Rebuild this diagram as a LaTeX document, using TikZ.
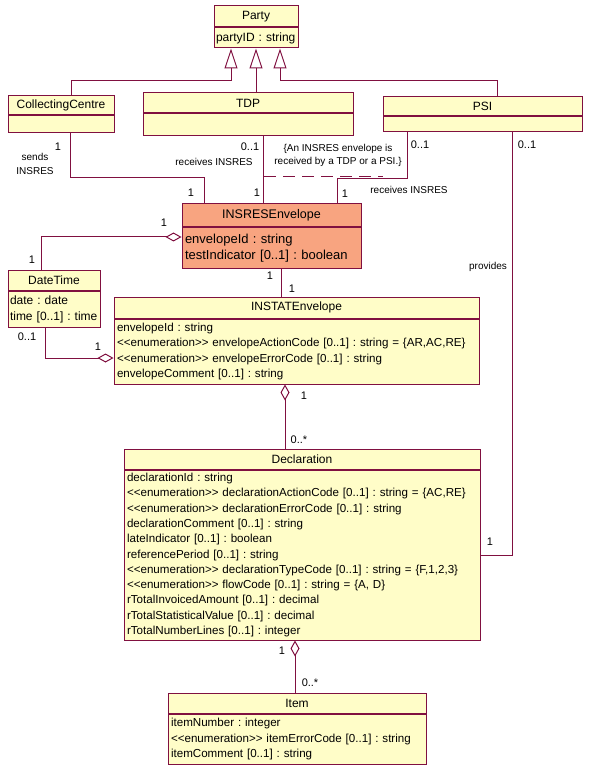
\documentclass[tikz,border=0pt]{standalone}
\usepackage{fontspec}
\setmainfont{Liberation Sans}
\usetikzlibrary{arrows.meta,positioning}
\definecolor{umlline}{RGB}{128,16,64}
\definecolor{umlfill}{RGB}{255,253,200}
\definecolor{umlsalmon}{RGB}{248,164,128}
\newcommand{\enumst}{<{}<enumeration>{}>}

\begin{document}
\frenchspacing
\begin{tikzpicture}[x=1pt, y=-1pt,
    cls/.style={draw=umlline, fill=umlfill, line width=1pt, inner sep=0pt,
                font=\fontsize{12}{14}\selectfont},
    attrs/.style={draw=umlline, fill=umlfill, line width=1pt, inner xsep=3pt,
                  inner ysep=0pt, align=left, font=\fontsize{11.6}{15.3}\selectfont},
    hot/.style={fill=umlsalmon},
    conn/.style={draw=umlline, line width=1pt},
    gen/.style={conn, -{Triangle[open, length=20pt, width=13pt]}},
    aggr/.style={conn, -{Diamond[open, length=16pt, width=9pt]}},
    cstr/.style={conn, dash pattern=on 12pt off 7pt},
    mult/.style={font=\fontsize{11}{13}\selectfont, inner sep=0pt},
    lbl/.style={font=\fontsize{10}{13.5}\selectfont, align=center, inner sep=0pt}
  ]
  \useasboundingbox (0,0) rectangle (591,775);

  % classes
  \node[cls, minimum width=84pt, minimum height=21pt] (party) at (256,16.5) {Party};
  \node[attrs, below=0pt of party, inner xsep=2pt, text width=80pt,
        minimum height=20pt, font=\fontsize{12}{14}\selectfont] (partyat) {partyID : string};

  \node[cls, minimum width=106pt, minimum height=19pt] (cc) at (61,105.5) {CollectingCentre};
  \node[attrs, below=0pt of cc, text width=100pt, minimum height=17pt] (ccat) {};

  \node[cls, minimum width=210pt, minimum height=20pt] (tdp) at (248,103) {TDP};
  \node[attrs, below=0pt of tdp, text width=204pt, minimum height=22pt] (tdpat) {};

  \node[cls, minimum width=199pt, minimum height=19pt] (psi) at (482.5,106.5) {PSI};
  \node[attrs, below=0pt of psi, text width=193pt, minimum height=15pt] (psiat) {};

  \node[cls, hot, minimum width=179pt, minimum height=23pt,
        font=\fontsize{12.5}{14}\selectfont] (ins) at (271.5,215.5) {INSRESEnvelope};
  \node[attrs, hot, below=0pt of ins, text width=173pt, minimum height=40pt,
        font=\fontsize{13}{16}\selectfont] (insat) {%
    envelopeId : string\\
    testIndicator [0..1] : boolean};

  \node[cls, minimum width=92pt, minimum height=20pt] (dt) at (54,280) {DateTime};
  \node[attrs, below=0pt of dt, inner xsep=2pt, text width=88pt, minimum height=36pt,
        font=\fontsize{12}{16}\selectfont] (dtat) {%
    date : date\\
    time [0..1] : time};

  \node[cls, minimum width=365pt, minimum height=21pt] (ist) at (296.5,307.5) {INSTATEnvelope};
  \node[attrs, below=0pt of ist, text width=359pt, minimum height=65pt] (istat) {%
    envelopeId : string\\
    \enumst{} envelopeActionCode [0..1] : string = \{AR,AC,RE\}\\
    \enumst{} envelopeErrorCode [0..1] : string\\
    envelopeComment [0..1] : string};

  \node[cls, minimum width=356pt, minimum height=20pt] (dec) at (302,459) {Declaration};
  \node[attrs, below=0pt of dec, text width=350pt, minimum height=170pt] (decat) {%
    declarationId : string\\
    \enumst{} declarationActionCode [0..1] : string = \{AC,RE\}\\
    \enumst{} declarationErrorCode [0..1] : string\\
    declarationComment [0..1] : string\\
    lateIndicator [0..1] : boolean\\
    referencePeriod [0..1] : string\\
    \enumst{} declarationTypeCode [0..1] : string = \{F,1,2,3\}\\
    \enumst{} flowCode [0..1] : string = \{A, D\}\\
    rTotalInvoicedAmount [0..1] : decimal\\
    rTotalStatisticalValue [0..1] : decimal\\
    rTotalNumberLines [0..1] : integer};

  \node[cls, minimum width=258pt, minimum height=20pt] (item) at (297,703) {Item};
  \node[attrs, below=0pt of item, text width=252pt, minimum height=50pt] (itemat) {%
    itemNumber : integer\\
    \enumst{} itemErrorCode [0..1] : string\\
    itemComment [0..1] : string};

  % generalisations
  \draw[gen] ([xshift=10pt]cc.north) -- ++(0,-15) -| ([xshift=-25pt]partyat.south);
  \draw[gen] (partyat.south |- tdp.north) -- (partyat.south);
  \draw[gen] ([xshift=15pt]psi.north) -- ++(0,-16) -| ([xshift=24pt]partyat.south);

  % associations
  \draw[conn] ([xshift=9pt]ccat.south) -- ++(0,44) -| ([xshift=-67pt]ins.north);
  \draw[conn] ([xshift=-8pt]ins.north |- tdpat.south) -- ([xshift=-8pt]ins.north);
  \draw[conn] ([xshift=-75pt]psiat.south) -- ++(0,46) -| ([xshift=66pt]ins.north);
  \draw[conn] ([xshift=30pt]psiat.south) |- (decat.east);
  \draw[conn] ([xshift=10pt]insat.south) -- ([xshift=10pt]insat.south |- ist.north);

  % aggregations
  \draw[aggr] ([xshift=-13pt]dt.north) |- ([yshift=11pt]insat.west);
  \draw[aggr] ([xshift=-9pt]dtat.south) |- ([yshift=-6.5pt]istat.west);
  \draw[aggr] ([xshift=-17pt]dec.north) -- ([xshift=-17pt]dec.north |- istat.south);
  \draw[aggr] ([xshift=-2pt]item.north) -- ([xshift=-2pt]item.north |- decat.south);

  % constraint
  \coordinate (ctdp) at (264,177);
  \coordinate (cpsi) at (383,177);
  \draw[cstr] (ctdp) -- (cpsi);
  \node[lbl] (cstrtext) at (338,155.5) {\{An INSRES envelope is\\received by a TDP or a PSI.\}};

  % roles and multiplicities
  \node[mult] (ccm) at (58,147) {1};
  \node[lbl] (ccrole) at (35,164) {sends\\INSRES};
  \node[mult] (insm1) at (191,193) {1};
  \node[mult] (tdpm) at (250,147) {0..1};
  \node[lbl] (tdprole) at (214,162) {receives INSRES};
  \node[mult] (insm2) at (257,193) {1};
  \node[mult] (psim1) at (420,145) {0..1};
  \node[mult] (insm3) at (345,194) {1};
  \node[lbl] (psirole) at (409,190) {receives INSRES};
  \node[mult] (psim2) at (527,145) {0..1};
  \node[lbl] (provides) at (488,267) {provides};
  \node[mult] (decm1) at (490,542) {1};
  \node[mult] (insm4) at (164,223) {1};
  \node[mult] (dtm1) at (32,260) {1};
  \node[mult] (dtm2) at (27,337) {0..1};
  \node[mult] (istm1) at (98,347) {1};
  \node[mult] (insm5) at (270,276) {1};
  \node[mult] (istm2) at (292,289) {1};
  \node[mult] (istm3) at (304,396) {1};
  \node[mult] (decm2) at (299,440) {0..*};
  \node[mult] (decm3) at (282,651) {1};
  \node[mult] (itemm) at (310,683) {0..*};
\end{tikzpicture}
\end{document}
